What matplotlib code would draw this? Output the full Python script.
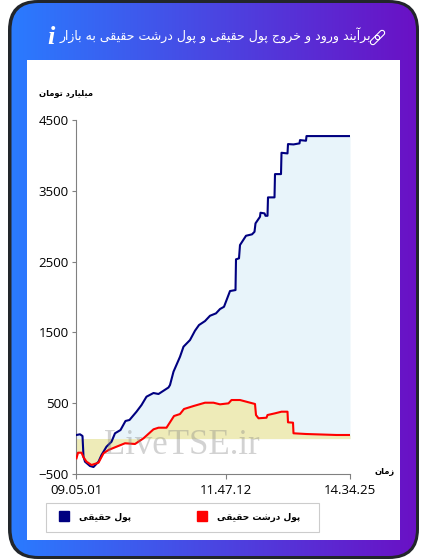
import numpy as np
import matplotlib
matplotlib.use('Agg')
import matplotlib.pyplot as plt
from matplotlib.patches import FancyBboxPatch
from matplotlib.lines import Line2D
from matplotlib.transforms import Affine2D

# Data (x = sample position along the session)
title = 'برآیند ورود و خروج پول حقیقی و پول درشت حقیقی به بازار'
unit_label = 'میلیارد تومان'
time_label = 'زمان'
series_names = ['پول حقیقی', 'پول درشت حقیقی']
y_ticks = [-500, 500, 1500, 2500, 3500, 4500]
x_ticks = [0, 149.5, 273.5]
x_tick_labels = ['09.05.01', '11.47.12', '14.34.25']

real_x = [0, 3.5, 6, 7, 8.5, 13.5, 17, 22, 25, 30, 35, 38.5, 44, 49, 53, 60, 65, 70, 77, 82,
          92, 93.5, 97, 103.5, 107, 113.5, 118.5, 122.5, 128.5, 133.5, 139.5, 143.5, 147.5,
          153.5, 159, 159.5, 162.5, 163.5, 169.5, 175.5, 178, 179, 183.5, 184, 188, 189, 191,
          191.5, 198, 198.5, 204.5, 205, 211, 211.5, 217, 223, 223.5, 229.5, 230, 273.5]
real_y = [51, 61, 37, -256, -326, -387, -401, -326, -232, -114, -44, 75, 121, 249, 263, 380, 474, 592, 644, 630,
          722, 757, 945, 1156, 1298, 1392, 1524, 1604, 1660, 1735, 1769, 1830, 1862,
          2084, 2098, 2532, 2546, 2734, 2865, 2885, 2921, 3040, 3133, 3190, 3181, 3147, 3147,
          3407, 3407, 3736, 3736, 4037, 4028, 4160, 4155, 4170, 4216, 4207, 4273, 4273]

big_x = [0, 1.5, 5, 7, 10, 15, 22, 27, 32, 38.5, 48.5, 58.5, 67, 77, 82, 90, 97.5, 103.5, 107.5, 117,
         128.5, 137, 143.5, 152, 155, 163.5, 172, 178.5, 179.5, 182, 190, 191, 198.5, 205, 211,
         211.5, 216.5, 217, 229.5, 260, 273.5]
big_y = [-278, -199, -199, -264, -326, -373, -340, -208, -161, -123, -66, -76, 4, 131, 154, 154, 319, 347, 418, 460,
         507, 507, 484, 498, 545, 545, 513, 489, 333, 287, 295, 333, 357, 380, 380,
         230, 225, 75, 65, 51, 51]

# matplotlib has no Arabic shaping, so join the letters by hand
FORMS = {
    'ا': (0xFE8D, 0xFE8E), 'آ': (0xFE81, 0xFE82), 'د': (0xFEA9, 0xFEAA), 'ر': (0xFEAD, 0xFEAE),
    'ز': (0xFEAF, 0xFEB0), 'و': (0xFEED, 0xFEEE),
    'ب': (0xFE8F, 0xFE90, 0xFE91, 0xFE92), 'پ': (0xFB56, 0xFB57, 0xFB58, 0xFB59),
    'ت': (0xFE95, 0xFE96, 0xFE97, 0xFE98), 'ج': (0xFE9D, 0xFE9E, 0xFE9F, 0xFEA0),
    'ح': (0xFEA1, 0xFEA2, 0xFEA3, 0xFEA4), 'خ': (0xFEA5, 0xFEA6, 0xFEA7, 0xFEA8),
    'ش': (0xFEB5, 0xFEB6, 0xFEB7, 0xFEB8), 'ق': (0xFED5, 0xFED6, 0xFED7, 0xFED8),
    'ل': (0xFEDD, 0xFEDE, 0xFEDF, 0xFEE0), 'م': (0xFEE1, 0xFEE2, 0xFEE3, 0xFEE4),
    'ن': (0xFEE5, 0xFEE6, 0xFEE7, 0xFEE8), 'ه': (0xFEE9, 0xFEEA, 0xFEEB, 0xFEEC),
    'ی': (0xFBFC, 0xFBFD, 0xFBFE, 0xFBFF),
}

def fa(text):
    out = []
    for i, c in enumerate(text):
        if c not in FORMS:
            out.append(c)
            continue
        prev_c = text[i - 1] if i > 0 else ' '
        next_c = text[i + 1] if i + 1 < len(text) else ' '
        joins_prev = prev_c in FORMS and len(FORMS[prev_c]) == 4
        joins_next = next_c in FORMS and len(FORMS[c]) == 4
        if joins_prev and joins_next:
            out.append(chr(FORMS[c][3]))
        elif joins_next:
            out.append(chr(FORMS[c][2]))
        elif joins_prev:
            out.append(chr(FORMS[c][1]))
        else:
            out.append(chr(FORMS[c][0]))
    return ''.join(out[::-1])

W, H = 427, 559
plt.rcParams['font.family'] = ['Open Sans', 'DejaVu Sans']
fig = plt.figure(figsize=(W / 100, H / 100), dpi=100, facecolor='white')

# Card behind the chart, drawn in pixel coordinates
bg = fig.add_axes([0, 0, 1, 1], zorder=0)
bg.set_xlim(0, W)
bg.set_ylim(H, 0)
bg.axis('off')
outer = FancyBboxPatch((8, 0), 411, 559, boxstyle='round,pad=0,rounding_size=30',
                       fc='#22262b', ec='none')
bg.add_patch(outer)
inner = FancyBboxPatch((11.5, 3), 404.5, 553, boxstyle='round,pad=0,rounding_size=27',
                       fc='none', ec='none')
bg.add_patch(inner)
c0 = np.array([0x2A, 0x7B, 0xFF]) / 255
c1 = np.array([0x6A, 0x11, 0xC5]) / 255
grad = np.linspace(0, 1, 256)[None, :, None] * (c1 - c0) + c0
im = bg.imshow(grad, extent=(11.5, 416, 556, 3), aspect='auto', zorder=1)
im.set_clip_path(inner)
bg.set_xlim(0, W)
bg.set_ylim(H, 0)
bg.add_patch(plt.Rectangle((27, 60), 373, 480, fc='white', ec='none', zorder=2))
bg.add_patch(plt.Rectangle((46.5, 502.5), 273, 29, fc='white', ec='#CCCCCC', lw=0.8, zorder=3))

bg.text(215, 35, fa(title), color='white', fontsize=9, ha='center', va='center',
        family='DejaVu Sans', zorder=3)
bg.text(51, 37, 'i', color='white', fontsize=19, ha='center', va='center',
        family='Liberation Serif', style='italic', weight='bold', zorder=3)
# link icon
for cx, cy in [(375, 40), (380, 35)]:
    t = Affine2D().rotate_deg_around(cx, cy, -45) + bg.transData
    link = FancyBboxPatch((cx - 5.5, cy - 2.5), 11, 5, boxstyle='round,pad=0,rounding_size=2.5',
                          fc='none', ec='white', lw=0.8, transform=t, zorder=3)
    bg.add_patch(link)
bg.text(66.5, 93, fa(unit_label), color='black', fontsize=6, weight='bold', ha='center', va='center',
        family='DejaVu Sans', zorder=3)
bg.text(385, 472, fa(time_label), color='black', fontsize=6, weight='bold', ha='center', va='center',
        family='DejaVu Sans', zorder=3)

# Chart axes
left, right, top, bottom = 76.5, 350, 120, 474
ax = fig.add_axes([left / W, 1 - bottom / H, (right - left) / W, (bottom - top) / H], zorder=1)
ax.patch.set_alpha(0)
ax.set_xlim(0, 273.5)
ax.set_ylim(-500, 4500)

blue = np.array(real_y)
ax.fill_between(real_x, real_y, 0, color='#E8F4FA', lw=0, zorder=1)
ax.fill_between(real_x, real_y, 0, where=blue <= 0, color='#EEEBB8', lw=0, zorder=2)
ax.fill_between(big_x, big_y, 0, color='#EEEBB8', lw=0, zorder=2)
ax.plot(real_x, real_y, color='#000080', lw=1.5, zorder=4, solid_joinstyle='round')
ax.plot(big_x, big_y, color='#FF0000', lw=1.5, zorder=5, solid_joinstyle='round')
ax.text(105.5, -95, 'LiveTSE.ir', family='Liberation Serif', fontsize=25, color='#808080',
        alpha=0.35, ha='center', va='center', zorder=6)

for s in ['top', 'right']:
    ax.spines[s].set_visible(False)
for s in ['left', 'bottom']:
    ax.spines[s].set_color('#808080')
    ax.spines[s].set_linewidth(0.8)
ax.set_yticks(y_ticks)
ax.set_xticks(x_ticks)
ax.set_xticklabels(x_tick_labels)
ax.tick_params(axis='y', length=3.2, width=0.8, color='#808080', labelsize=9.5, pad=2.5)
ax.tick_params(axis='x', length=3.6, width=0.8, color='#808080', labelsize=9.5, pad=3.5)

handles = [Line2D([], [], ls='none', marker='s', ms=7.4, color='#000080'),
           Line2D([], [], ls='none', marker='s', ms=7.4, color='#FF0000')]
leg = fig.legend(handles, [fa(n) for n in series_names], ncol=2, loc='center left',
                 bbox_to_anchor=(46.5 / W, 1 - 517 / H), frameon=False, borderaxespad=0,
                 borderpad=1.33, handletextpad=1.1, columnspacing=7.2, handlelength=1.2,
                 prop={'family': 'DejaVu Sans', 'weight': 'bold', 'size': 6.5})

fig.savefig('out.png', dpi=100)
